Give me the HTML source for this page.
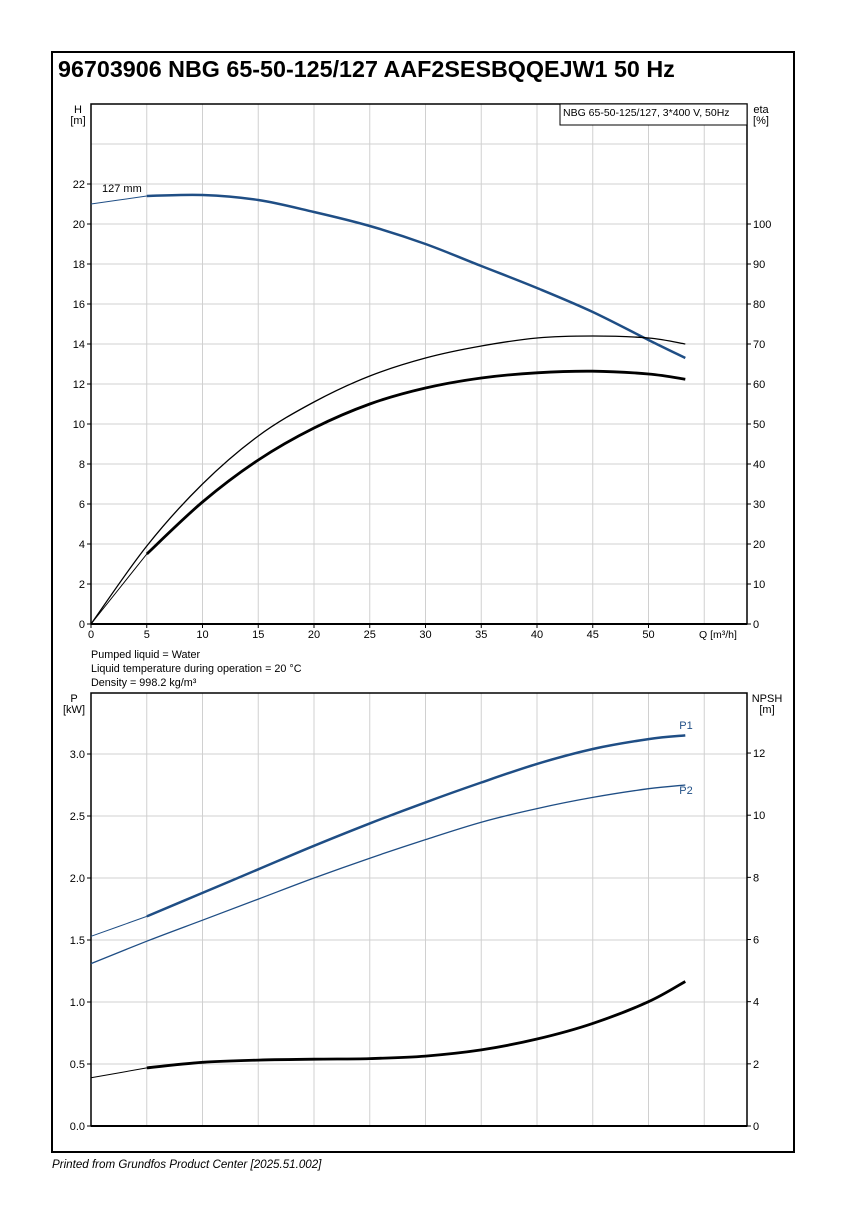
<!DOCTYPE html>
<html><head><meta charset="utf-8"><style>
body{margin:0;background:#fff;width:853px;height:1211px;overflow:hidden}
svg text{font-family:"Liberation Sans",sans-serif;fill:#000}
</style></head><body>
<svg width="853" height="1211" xmlns="http://www.w3.org/2000/svg">
<rect x="52" y="52" width="742" height="1100" fill="none" stroke="#000" stroke-width="2"/>
<text x="58" y="77" font-size="23.3" font-weight="bold">96703906 NBG 65-50-125/127 AAF2SESBQQEJW1 50 Hz</text>
<text x="52" y="1168" font-size="11.6" font-style="italic">Printed from Grundfos Product Center [2025.51.002]</text>
<g id="gtop"></g>
<g id="gbot"></g>
<text x="91" y="658" font-size="10.8">Pumped liquid = Water</text>
<text x="91" y="672" font-size="10.8">Liquid temperature during operation = 20 °C</text>
<text x="91" y="686" font-size="10.8">Density = 998.2 kg/m³</text>
</svg>
<script>
const qVals=[0,5,10,15,20,25,30,35,40,45,50,53.3];
const headVals=[21.0,21.4,21.45,21.2,20.6,19.9,19.0,17.9,16.8,15.6,14.2,13.3];
const etaPump=[0,19.5,35,47,55.5,62,66.5,69.5,71.5,72,71.5,70];
const etaTotal=[0,17.5,30.5,41,49,55,59,61.5,62.8,63.2,62.5,61.2];
const p1Vals=[1.53,1.69,1.88,2.07,2.26,2.44,2.61,2.77,2.92,3.04,3.12,3.15];
const p2Vals=[1.31,1.49,1.66,1.83,2.0,2.16,2.31,2.45,2.56,2.65,2.72,2.75];
const npshVals=[1.55,1.87,2.05,2.12,2.15,2.17,2.25,2.45,2.8,3.3,4.0,4.65];
const qTicks=[0,5,10,15,20,25,30,35,40,45,50];
const hTicks=[0,2,4,6,8,10,12,14,16,18,20,22];
const etaTicks=[0,10,20,30,40,50,60,70,80,90,100];
const pTicks=[0.0,0.5,1.0,1.5,2.0,2.5,3.0];
const npTicks=[0,2,4,6,8,10,12];

const NS="http://www.w3.org/2000/svg";
const L=91,R=747;
const X=q=>L+q*11.15;
const TT=104,TB=624,BT=693,BB=1126;
const yH=h=>TB-h*20, yEta=e=>TB-e*4, yP=p=>BB-p*124, yN=n=>BB-n*31.08;
function mk(parent,tag,attrs){const e=document.createElementNS(NS,tag);for(const k in attrs)e.setAttribute(k,attrs[k]);parent.appendChild(e);return e;}
function txt(parent,x,y,s,size,anchor){const t=mk(parent,'text',{x:x,y:y,'font-size':size,'text-anchor':anchor||'start'});t.textContent=s;return t;}
function path(pts){let d='M'+pts[0][0].toFixed(1)+','+pts[0][1].toFixed(1);
 for(let i=0;i<pts.length-1;i++){const p0=pts[Math.max(0,i-1)],p1=pts[i],p2=pts[i+1],p3=pts[Math.min(pts.length-1,i+2)];
  const c1=[p1[0]+(p2[0]-p0[0])/6,p1[1]+(p2[1]-p0[1])/6],c2=[p2[0]-(p3[0]-p1[0])/6,p2[1]-(p3[1]-p1[1])/6];
  d+=' C'+c1[0].toFixed(1)+','+c1[1].toFixed(1)+' '+c2[0].toFixed(1)+','+c2[1].toFixed(1)+' '+p2[0].toFixed(1)+','+p2[1].toFixed(1);}
 return d;}
function curve(g,vals,yf,from,to,color,w,name){const pts=[];for(let i=from;i<=to;i++)pts.push([X(qVals[i]),yf(vals[i])]);
 const p=mk(g,'path',{d:path(pts),fill:'none',stroke:color,'stroke-width':w});
 
 }
function frame(g,t0,b0,hStep){
 for(let q=5;q<=55;q+=5){const l=mk(g,'line',{x1:X(q),x2:X(q),y1:t0,y2:b0,stroke:'#d0d0d0','stroke-width':1});
  }
 for(let y=b0-hStep;y>t0+1;y-=hStep){const l=mk(g,'line',{x1:L,x2:R,y1:y,y2:y,stroke:'#d0d0d0','stroke-width':1});
  }
 const r=mk(g,'rect',{x:L,y:t0,width:R-L,height:b0-t0,fill:'none',stroke:'#000','stroke-width':1.5});
 }
const gTop=document.getElementById('gtop');
frame(gTop,TT,TB,40);
mk(gTop,'line',{x1:L,x2:R,y1:TB,y2:TB,stroke:'#000','stroke-width':2});
hTicks.forEach(h=>{mk(gTop,'line',{x1:L-4,x2:L,y1:yH(h),y2:yH(h),stroke:'#000'});const t=txt(gTop,L-6,yH(h)+4,String(h),11,'end');
 });
etaTicks.forEach(e=>{mk(gTop,'line',{x1:R,x2:R+4,y1:yEta(e),y2:yEta(e),stroke:'#000'});const t=txt(gTop,R+6,yEta(e)+4,String(e),11);
 });
qTicks.forEach(q=>{mk(gTop,'line',{x1:X(q),x2:X(q),y1:TB,y2:TB+4,stroke:'#000'});const t=txt(gTop,X(q),TB+14,String(q),11,'middle');
 });
txt(gTop,699,TB+14,'Q [m³/h]',10.5);
txt(gTop,78,113,'H',11,'middle');
txt(gTop,78,124,'[m]',11,'middle');
txt(gTop,761,113,'eta',11,'middle');
txt(gTop,761,124,'[%]',11,'middle');
mk(gTop,'rect',{x:560,y:104,width:187,height:21,fill:'#fff',stroke:'#000'});
txt(gTop,563,116,'NBG 65-50-125/127, 3*400 V, 50Hz',10.5);
txt(gTop,102,192,'127 mm',11);
curve(gTop,headVals,yH,0,1,'#1f4e85',1,'head-curve-thin');
curve(gTop,headVals,yH,1,11,'#1f4e85',2.5,'head-curve');
curve(gTop,etaPump,yEta,0,11,'#000',1.3,'eta-pump-curve');
curve(gTop,etaTotal,yEta,0,1,'#000',1,'eta-total-thin');
curve(gTop,etaTotal,yEta,1,11,'#000',2.8,'eta-total-curve');
const gBot=document.getElementById('gbot');
frame(gBot,BT,BB,62);
mk(gBot,'line',{x1:L,x2:R,y1:BB,y2:BB,stroke:'#000','stroke-width':2});
pTicks.forEach(p=>{mk(gBot,'line',{x1:L-4,x2:L,y1:yP(p),y2:yP(p),stroke:'#000'});const t=txt(gBot,L-6,yP(p)+4,p.toFixed(1),11,'end');
 });
npTicks.forEach(n=>{mk(gBot,'line',{x1:R,x2:R+4,y1:yN(n),y2:yN(n),stroke:'#000'});const t=txt(gBot,R+6,yN(n)+4,String(n),11);
 });
txt(gBot,74,702,'P',11,'middle');
txt(gBot,74,713,'[kW]',11,'middle');
txt(gBot,767,702,'NPSH',11,'middle');
txt(gBot,767,713,'[m]',11,'middle');
curve(gBot,p1Vals,yP,0,1,'#1f4e85',1,'p1-thin');
curve(gBot,p1Vals,yP,1,11,'#1f4e85',2.5,'p1-curve');
curve(gBot,p2Vals,yP,0,11,'#1f4e85',1.3,'p2-curve');
curve(gBot,npshVals,yN,0,1,'#000',1,'npsh-thin');
curve(gBot,npshVals,yN,1,11,'#000',2.8,'npsh-curve');
const l1=txt(gBot,686,729,'P1',11,'middle');l1.style.fill='#1f4e85';
const l2=txt(gBot,686,794,'P2',11,'middle');l2.style.fill='#1f4e85';
</script>
</body></html>
